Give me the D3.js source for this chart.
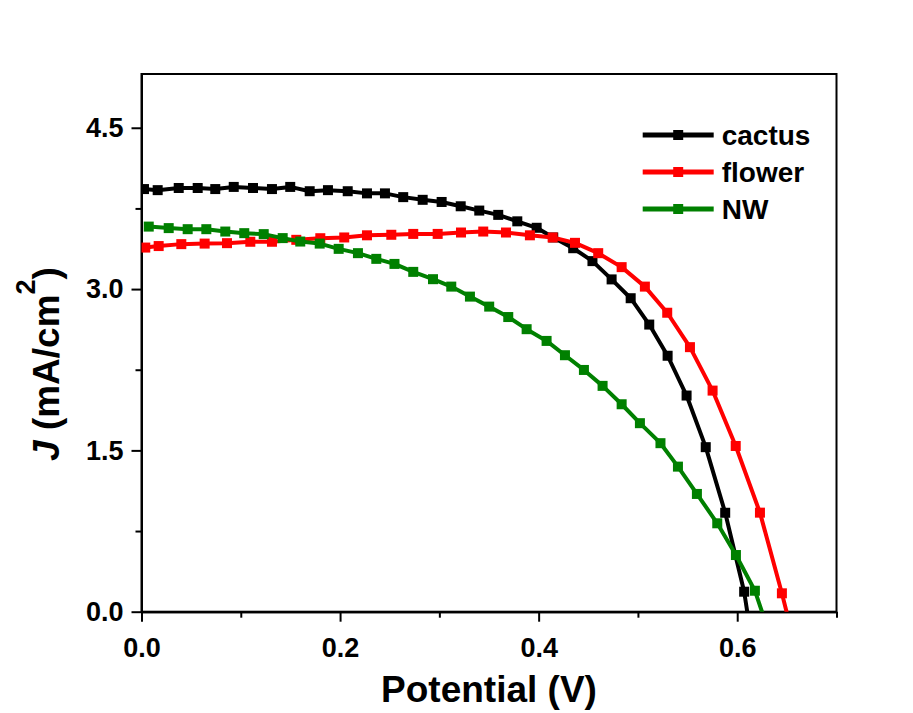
<!DOCTYPE html>
<html lang="en">
<head>
<meta charset="UTF-8">
<title>J-V curves</title>
<script src="https://d3js.org/d3.v7.min.js"></script>
<style>
    body { margin:0; background:#fff; }
    text { font-family: Arial, "Liberation Sans", sans-serif; font-weight:bold; fill:#000; }
    .axis path, .axis line { stroke:#000; stroke-width:2; }
</style>
</head>
<body>
<div id="chart"></div>
<script>
// values: potential (V) and current density J (mA/cm2)
// last point of each series is below J=0 and gets clipped by the axis
var cactusV = [0.0025, 0.0163, 0.0375, 0.0566, 0.0743, 0.0929, 0.1123, 0.1314, 0.1498, 0.1694, 0.1878, 0.2077, 0.2271, 0.2452,
               0.2636, 0.2832, 0.3023, 0.3215, 0.3402, 0.3593, 0.3785, 0.3980, 0.4147, 0.4348, 0.4542, 0.4735, 0.4927, 0.5114,
               0.5299, 0.5490, 0.5683, 0.5879, 0.6070, 0.6261];
var cactusJ = [3.93, 3.92, 3.94, 3.94, 3.93, 3.95, 3.94, 3.93, 3.95, 3.91, 3.92, 3.91, 3.89, 3.89,
               3.855, 3.83, 3.81, 3.77, 3.73, 3.69, 3.63, 3.57, 3.48, 3.38, 3.26, 3.09, 2.915, 2.67,
               2.38, 2.01, 1.53, 0.92, 0.186, -0.96];

var flowerV = [0.0038, 0.0173, 0.0401, 0.0636, 0.0861, 0.1096, 0.1314, 0.1559, 0.1801, 0.2042, 0.2271, 0.2516, 0.2737, 0.2983,
               0.3218, 0.3442, 0.3671, 0.3912, 0.4141, 0.4366, 0.4600, 0.4836, 0.5070, 0.5295, 0.5524, 0.5752, 0.5985, 0.6229,
               0.6450, 0.6680];
var flowerJ = [3.386, 3.40, 3.418, 3.423, 3.427, 3.44, 3.44, 3.458, 3.473, 3.48, 3.50, 3.505, 3.513, 3.513,
               3.526, 3.535, 3.526, 3.50, 3.48, 3.43, 3.334, 3.204, 3.023, 2.78, 2.46, 2.056, 1.541, 0.921,
               0.171, -0.67];

var nwV = [0.0073, 0.0274, 0.0465, 0.0653, 0.0844, 0.1035, 0.1231, 0.1422, 0.1599, 0.1795, 0.1986, 0.2180, 0.2365, 0.2548,
           0.2737, 0.2936, 0.3120, 0.3308, 0.3502, 0.3694, 0.3879, 0.4080, 0.4265, 0.4456, 0.4644, 0.4836, 0.5020, 0.5227,
           0.5403, 0.5594, 0.5799, 0.5987, 0.6178, 0.6370];
var nwJ = [3.581, 3.567, 3.557, 3.557, 3.535, 3.52, 3.511, 3.474, 3.442, 3.423, 3.374, 3.334, 3.281, 3.234,
           3.16, 3.092, 3.023, 2.93, 2.837, 2.74, 2.627, 2.518, 2.385, 2.248, 2.10, 1.929, 1.753, 1.567,
           1.349, 1.095, 0.822, 0.527, 0.195, -0.33];

var seriesNames = ["cactus", "flower", "NW"];
var seriesColors = ["#000000", "#ff0000", "#008000"];

var xTicks = [0, 0.2, 0.4, 0.6];
var xMinorTicks = [0.1, 0.3, 0.5, 0.7];
var yTicks = [0, 1.5, 3.0, 4.5];
var yMinorTicks = [0.75, 2.25, 3.75];

var series = [
    {name: seriesNames[0], color: seriesColors[0], v: cactusV, j: cactusJ},
    {name: seriesNames[1], color: seriesColors[1], v: flowerV, j: flowerJ},
    {name: seriesNames[2], color: seriesColors[2], v: nwV, j: nwJ}
];

var margin = {top: 74, right: 76.5, bottom: 101.3, left: 141.5},
    width = 913 - margin.left - margin.right,
    height = 713 - margin.top - margin.bottom;

var svg = d3.select("#chart")
    .append("svg")
    .attr("width", 913)
    .attr("height", 713)
    .append("g")
    .attr("transform", "translate(" + margin.left + "," + margin.top + ")");

var x = d3.scaleLinear().domain([0, 0.7]).range([0, width]);
var y = d3.scaleLinear().domain([0, 5]).range([height, 0]);

svg.append("clipPath")
    .attr("id", "plotClip")
    .append("rect")
    .attr("width", width)
    .attr("height", height);

// frame
svg.append("rect")
    .attr("width", width)
    .attr("height", height)
    .attr("fill", "none")
    .attr("stroke", "#000")
    .attr("stroke-width", 2);

// minor ticks
svg.append("g")
    .attr("class", "axis")
    .attr("transform", "translate(0," + height + ")")
    .call(d3.axisBottom(x).tickValues(xMinorTicks).tickSize(6).tickSizeOuter(0).tickFormat(""));

svg.append("g")
    .attr("class", "axis")
    .call(d3.axisLeft(y).tickValues(yMinorTicks).tickSize(6).tickSizeOuter(0).tickFormat(""));

// major ticks + labels
svg.append("g")
    .attr("class", "axis")
    .attr("transform", "translate(0," + height + ")")
    .call(d3.axisBottom(x).tickValues(xTicks).tickSize(10).tickSizeOuter(0).tickPadding(16).tickFormat(d3.format(".1f")));

svg.append("g")
    .attr("class", "axis")
    .call(d3.axisLeft(y).tickValues(yTicks).tickSize(10).tickSizeOuter(0).tickPadding(8).tickFormat(d3.format(".1f")));

svg.selectAll(".axis text")
    .style("font-family", "Arial, 'Liberation Sans', sans-serif")
    .style("font-weight", "bold")
    .style("font-size", "27px");

// curves
var line = d3.line()
    .x(function(d) { return x(d[0]); })
    .y(function(d) { return y(d[1]); });

var plot = svg.append("g").attr("clip-path", "url(#plotClip)");

series.forEach(function(s) {
    var pts = s.v.map(function(v, i) { return [v, s.j[i]]; });

    plot.append("path")
        .datum(pts)
        .attr("d", line)
        .attr("fill", "none")
        .attr("stroke", s.color)
        .attr("stroke-width", 4)
        .attr("stroke-linejoin", "round");

    plot.append("g")
        .selectAll("rect")
        .data(pts)
        .enter()
        .append("rect")
        .attr("x", function(d) { return x(d[0]) - 5; })
        .attr("y", function(d) { return y(d[1]) - 5; })
        .attr("width", 10)
        .attr("height", 10)
        .attr("fill", s.color);
});

// legend
var legend = svg.append("g")
    .attr("transform", "translate(" + (642.7 - margin.left) + "," + (135 - margin.top) + ")");

series.forEach(function(s, i) {
    var row = legend.append("g").attr("transform", "translate(0," + (i * 37) + ")");
    row.append("line")
        .attr("x1", 0).attr("x2", 71)
        .attr("y1", 0).attr("y2", 0)
        .attr("stroke", s.color)
        .attr("stroke-width", 5);
    row.append("rect")
        .attr("x", 35.5 - 5).attr("y", -5)
        .attr("width", 10).attr("height", 10)
        .attr("fill", s.color);
    row.append("text")
        .attr("x", 79)
        .attr("y", 10)
        .style("font-size", "28px")
        .text(s.name);
});

// axis titles
svg.append("text")
    .attr("x", width / 2)
    .attr("y", 702 - margin.top)
    .attr("text-anchor", "middle")
    .style("font-size", "37px")
    .text("Potential (V)");

var yTitle = svg.append("text")
    .attr("transform", "translate(" + (59 - margin.left) + "," + (364 - margin.top) + ") rotate(-90)")
    .attr("text-anchor", "middle")
    .style("font-size", "37px");
yTitle.append("tspan").style("font-style", "italic").text("J");
yTitle.append("tspan").text(" (mA/cm");
yTitle.append("tspan").attr("dy", -24).style("font-size", "27px").text("2");
yTitle.append("tspan").attr("dy", 24).text(")");
</script>
</body>
</html>
